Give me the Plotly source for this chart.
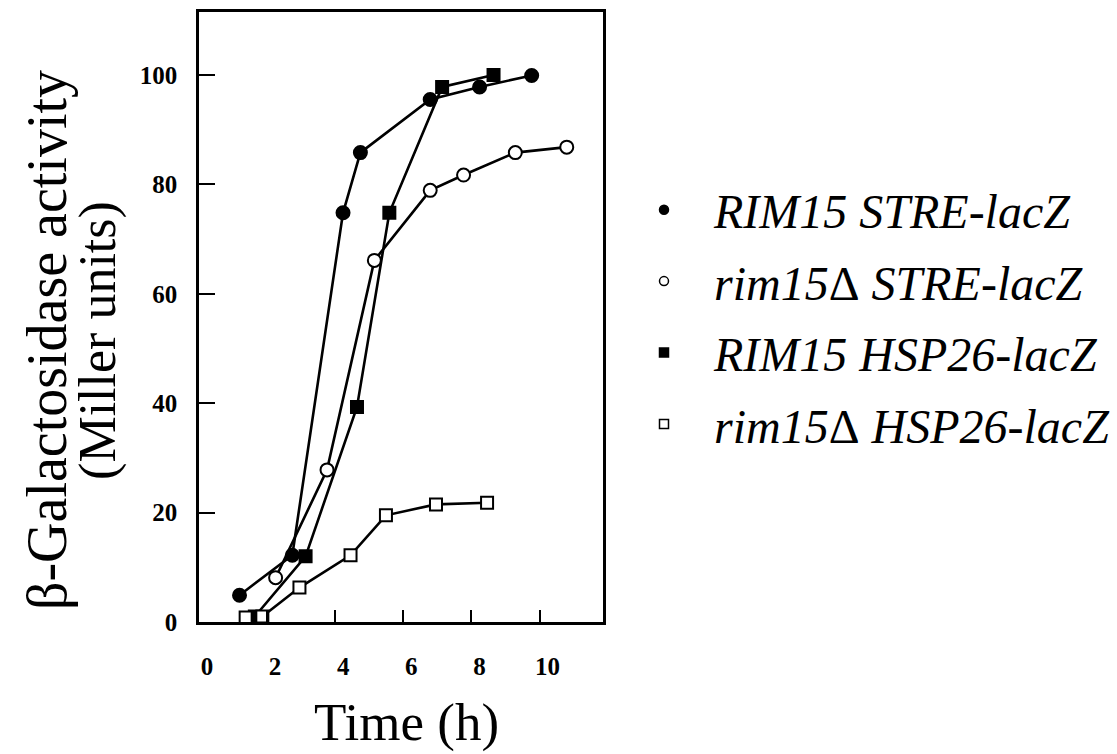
import plotly.graph_objects as go

# RIM15 STRE-lacZ (filled circles)
t_rim15_stre = [1.19, 2.74, 4.23, 4.74, 6.79, 8.24, 9.77]
v_rim15_stre = [4.9, 12.2, 74.8, 85.8, 95.5, 97.8, 99.9]

# rim15Δ STRE-lacZ (open circles)
t_rim15d_stre = [2.25, 3.76, 5.15, 6.79, 7.77, 9.29, 10.8]
v_rim15d_stre = [8.1, 27.8, 66.1, 78.9, 81.7, 85.8, 86.8]

# RIM15 HSP26-lacZ (filled squares)
t_rim15_hsp = [1.64, 3.13, 4.64, 5.59, 7.14, 8.65]
v_rim15_hsp = [1.0, 12.0, 39.3, 74.8, 97.8, 100.0]

# rim15Δ HSP26-lacZ (open squares)
t_rim15d_hsp = [1.37, 1.86, 2.95, 4.45, 5.49, 6.96, 8.46]
v_rim15d_hsp = [0.8, 1.0, 6.3, 12.2, 19.5, 21.5, 21.8]

series_names = ["<i>RIM15 STRE-lacZ</i>", "<i>rim15</i>Δ<i> STRE-lacZ</i>",
                "<i>RIM15 HSP26-lacZ</i>", "<i>rim15</i>Δ<i> HSP26-lacZ</i>"]
x_ticks = [0, 2, 4, 6, 8, 10]
y_ticks = [0, 20, 40, 60, 80, 100]

SERIF = "Liberation Serif"

series = [
    (t_rim15_stre, v_rim15_stre, "circle", "black"),
    (t_rim15d_stre, v_rim15d_stre, "circle", "white"),
    (t_rim15_hsp, v_rim15_hsp, "square", "black"),
    (t_rim15d_hsp, v_rim15d_hsp, "square", "white"),
]

fig = go.Figure()
for (xs, ys, sym, fill) in series:
    fig.add_trace(go.Scatter(
        x=xs, y=ys, mode="lines+markers", showlegend=False, cliponaxis=False,
        line=dict(color="black", width=2.6),
        marker=dict(symbol=sym, size=13 if sym == "circle" else 12, color=fill,
                    line=dict(color="black", width=2)),
    ))

# legend-only entries (marker only, as in the reference)
for name, (xs, ys, sym, fill) in zip(series_names, series):
    fig.add_trace(go.Scatter(
        x=[None], y=[None], mode="markers", name=name, legendgroup=name,
        marker=dict(symbol=sym, size=9, color=fill, line=dict(color="black", width=1.5)),
    ))

fig.update_layout(
    width=1117, height=754,
    margin=dict(l=199, r=513, t=9, b=132),
    plot_bgcolor="white", paper_bgcolor="white",
    font=dict(family=SERIF, color="black"),
    showlegend=True,
    legend=dict(
        xref="container", yref="container", x=614 / 1117, y=1 - 172 / 754,
        xanchor="left", yanchor="top",
        font=dict(family=SERIF, size=48, color="black"),
        itemwidth=90, tracegroupgap=6, bgcolor="rgba(0,0,0,0)",
    ),
)

fig.update_xaxes(
    range=[0, 11.85], tickvals=x_ticks, ticktext=[str(v) for v in x_ticks],
    ticks="inside", ticklen=12, tickwidth=2, tickcolor="black",
    showline=True, linecolor="black", linewidth=2.5, mirror=True,
    showgrid=False, zeroline=False,
    tickfont=dict(family=SERIF, size=25, color="black", weight="bold"),
    ticklabelstandoff=20, ticklabelshift=8,
)
fig.update_yaxes(
    range=[0, 111.5], tickvals=y_ticks, ticktext=[str(v) for v in y_ticks],
    ticks="inside", ticklen=16, tickwidth=2, tickcolor="black",
    showline=True, linecolor="black", linewidth=2.5, mirror=True,
    showgrid=False, zeroline=False,
    tickfont=dict(family=SERIF, size=25, color="black", weight="bold"),
    ticklabelstandoff=14,
)

# axis titles
fig.add_annotation(text="Time (h)", xref="paper", yref="paper", x=0.515, y=-0.165,
                   xanchor="center", yanchor="middle", showarrow=False,
                   font=dict(family=SERIF, size=53, color="black"))
fig.add_annotation(text="β-Galactosidase activity", xref="paper", yref="paper",
                   x=-0.378, y=0.463, xanchor="center", yanchor="middle",
                   textangle=-90, showarrow=False,
                   font=dict(family=SERIF, size=56, color="black"))
fig.add_annotation(text="(Miller units)", xref="paper", yref="paper",
                   x=-0.250, y=0.461, xanchor="center", yanchor="middle",
                   textangle=-90, showarrow=False,
                   font=dict(family=SERIF, size=52, color="black"))

fig.write_html("out.html")
